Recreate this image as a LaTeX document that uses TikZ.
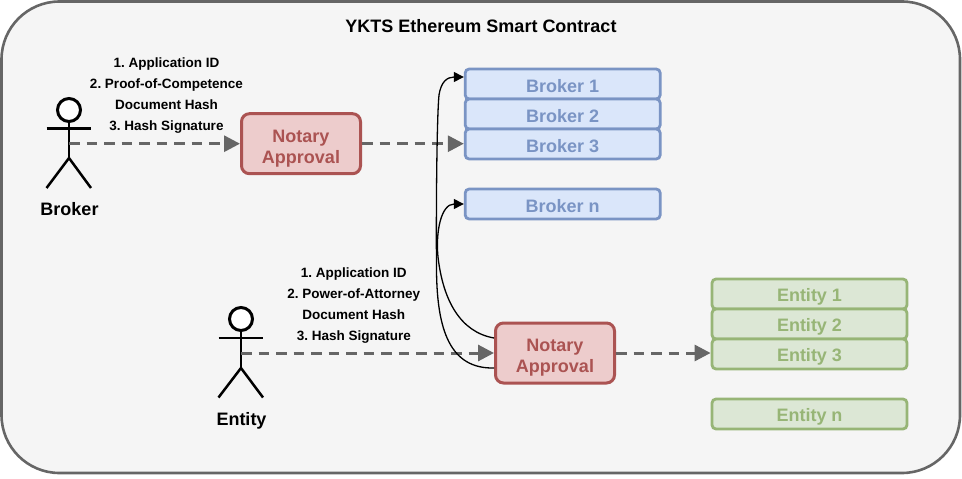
\documentclass[tikz,border=0pt]{standalone}
\usepackage{fontspec}
\setmainfont{Liberation Sans}
\usetikzlibrary{arrows.meta,calc}
\frenchspacing

\definecolor{framegray}{HTML}{666666}
\definecolor{framefill}{HTML}{F5F5F5}
\definecolor{brokerline}{HTML}{7A94C4}
\definecolor{brokerfill}{HTML}{DAE6FA}
\definecolor{entityline}{HTML}{97B576}
\definecolor{entityfill}{HTML}{DCE7D5}
\definecolor{notaryline}{HTML}{AB5352}
\definecolor{notaryfill}{HTML}{EDCCCC}

\tikzset{
  rowbox/.style={draw,line width=2.8pt,rounded corners=4pt,minimum width=195pt,minimum height=30pt,inner sep=0pt,text height=16pt,text depth=0pt,font=\fontsize{18}{20}\selectfont\bfseries},
  brokerbox/.style={rowbox,draw=brokerline,fill=brokerfill,text=brokerline},
  entitybox/.style={rowbox,draw=entityline,fill=entityfill,text=entityline,text height=14pt},
  notarybox/.style={draw=notaryline,fill=notaryfill,text=notaryline,line width=3pt,rounded corners=8pt,minimum width=119pt,minimum height=60pt,inner sep=0pt,align=center,font=\fontsize{18}{21}\selectfont\bfseries},
  head/.style={circle,draw,fill=white,line width=3pt,minimum size=23pt,inner sep=0pt},
  limb/.style={line width=2.5pt},
  actorname/.style={anchor=base,font=\fontsize{18}{20}\selectfont\bfseries},
  steps/.style={align=center,font=\fontsize{13.5}{21}\selectfont\bfseries},
  flow/.style={draw=framegray,line width=3pt,dash pattern=on 10.5pt off 7pt,-{Triangle[length=16pt,width=16pt,fill=framegray,sep=0pt]}},
  link/.style={line width=1.3pt,-{Triangle[length=10pt,width=10pt]}}
}

\begin{document}
\begin{tikzpicture}[x=1pt,y=-1pt]
\useasboundingbox (0,0) rectangle (962,479);
\draw[draw=framegray,fill=framefill,line width=2.6pt,rounded corners=58pt] (1.5,1.5) rectangle (960,473);
\node[anchor=base,font=\fontsize{18}{20}\selectfont\bfseries] (title) at (481,32.5) {YKTS Ethereum Smart Contract};

\foreach \i/\y in {1/84,2/114,3/144,n/204}
  \node[brokerbox] (broker\i) at (562.7,\y) {Broker \i};
\foreach \i/\y in {1/294,2/324,3/354,n/414}
  \node[entitybox] (entity\i) at (809.5,\y) {Entity \i};

\node[notarybox] (notaryb) at (301,143.7) {\rule{0pt}{22pt}Notary\\Approval};
\node[notarybox] (notarye) at (555,353) {\rule{0pt}{22pt}Notary\\Approval};

% broker figure
\node[head] (brokerhead) at (69,110) {};
\coordinate (brokerhip) at (69,158);
\coordinate (brokerwaist) at (69,143.7);
\draw[limb] (brokerhead) -- (brokerhip);
\draw[limb] (46.5,128.5) -- (91,128.5);
\draw[limb] (46.5,188) -- (brokerhip) -- (91,188);
\node[actorname] (brokername) at (69.5,215.7) {Broker};

% entity figure
\node[head] (entityhead) at (241,319) {};
\coordinate (entityhip) at (241,368);
\coordinate (entitywaist) at (241,353);
\draw[limb] (entityhead) -- (entityhip);
\draw[limb] (218.5,338) -- (263,338);
\draw[limb] (218.5,397.5) -- (entityhip) -- (263,397.5);
\node[actorname] (entityname) at (241.5,425.7) {Entity};

\node[steps] (brokersteps) at (166.5,96) {1. Application ID\\2. Proof-of-Competence\\Document Hash\\3. Hash Signature};
\node[steps] (entitysteps) at (353.8,305.3) {1. Application ID\\2. Power-of-Attorney\\Document Hash\\3. Hash Signature};

\draw[flow] (brokerwaist) -- (notaryb);
\draw[flow] (notaryb) -- (notaryb -| broker3.west);
\draw[flow] (entitywaist) -- (notarye);
\draw[flow] (notarye.east) -- (entity3.west |- notarye.east);

\coordinate (upperout) at ($(notarye.west)+(0,-15)$);
\coordinate (lowerout) at ($(notarye.west)+(0,15)$);
\coordinate (brokertop) at ($(broker1.west)+(0,-7)$);
\draw[link] (upperout) .. controls (460,332) and (443,300) .. (438,257) .. controls (435.5,232) and (441,204) .. (brokern.west);
\draw[link] (lowerout) .. controls (450,369) and (437,330) .. (436.5,270) .. controls (436,200) and (437,115) .. (439,95) .. controls (441,82) and (447,77) .. (brokertop);
\end{tikzpicture}
\end{document}
